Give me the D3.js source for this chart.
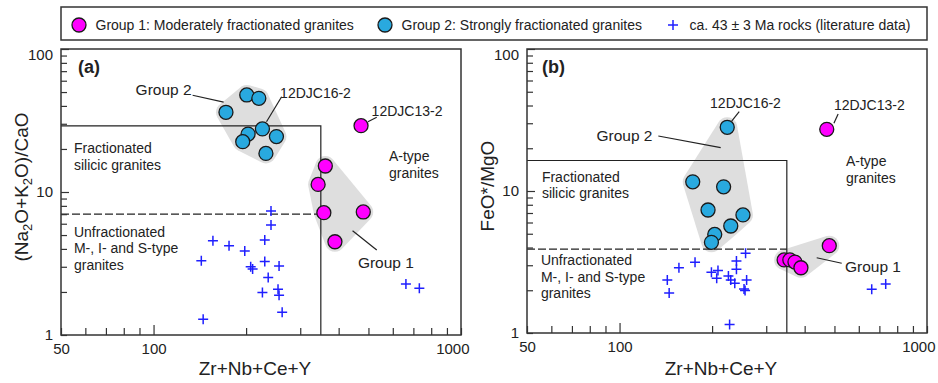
<!DOCTYPE html>
<html>
<head>
<meta charset="utf-8">
<script src="https://cdn.jsdelivr.net/npm/d3@7"></script>
<style>
body { margin: 0; background: #fff; }
text { font-family: "Liberation Sans", Arial, sans-serif; fill: #222; }
</style>
</head>
<body>
<svg id="chart" width="938" height="383"></svg>
<script>
// ---- data ----
var xDomain = [50, 1000];
var yDomain = [1, 100];
var xTickLabels = [50, 100, 1000];
var yTickLabels = [1, 10, 100];

// panel (a): (Na2O+K2O)/CaO vs Zr+Nb+Ce+Y
var g1aX = [473, 362, 343, 358, 481, 389];
var g1aY = [29.1, 15.2, 11.3, 7.17, 7.25, 4.49];
var g2aX = [201, 220, 172, 226, 203, 251, 195, 232];
var g2aY = [47.7, 45.2, 36.1, 27.6, 25.4, 24.4, 22.5, 18.6];
var litaX = [241, 241, 156, 176, 230, 198, 143, 207, 210, 230, 256, 236, 226, 254, 256, 262, 145, 662, 732];
var litaY = [7.37, 5.88, 4.56, 4.21, 4.62, 3.87, 3.31, 3.0, 2.89, 3.26, 3.04, 2.52, 1.98, 2.09, 1.90, 1.44, 1.29, 2.27, 2.12];

// panel (b): FeO*/MgO vs Zr+Nb+Ce+Y
var g1bX = [472, 481, 343, 358, 372, 389];
var g1bY = [27.2, 4.12, 3.27, 3.27, 3.16, 2.88];
var g2bX = [224, 173, 218, 194, 252, 230, 204, 199];
var g2bY = [28.1, 11.6, 10.7, 7.35, 6.78, 5.67, 4.95, 4.35];
var litbX = [257, 240, 240, 176, 156, 143, 145, 199, 209, 207, 226, 230, 237, 259, 254, 256, 228, 661, 734];
var litbY = [3.64, 3.21, 2.81, 3.15, 2.88, 2.36, 1.91, 2.68, 2.75, 2.43, 2.52, 2.36, 2.24, 2.36, 2.04, 1.99, 1.15, 2.03, 2.21];

// field boundaries (Whalen-type): A-type limit on x, FG and unfractionated limits on y
var aTypeX = 350;
var fgYa = 29, unfYa = 7;
var fgYb = 16.4, unfYb = 3.9;

var legendLabels = ["Group 1: Moderately fractionated granites",
                    "Group 2: Strongly fractionated granites",
                    "ca. 43 \u00b1 3 Ma rocks (literature data)"];

var col1 = "#ff00ff", col2 = "#29a9df", colLit = "#1f1fff", colHull = "#dedede";

function zip(xs, ys) { return xs.map(function (v, i) { return [v, ys[i]]; }); }

var svg = d3.select("#chart");
var plus = "M-5,0H5M0,-5V5";

function hullPath(pts, pad) {
	var ring = [];
	pts.forEach(function (p) {
		for (var k = 0; k < 24; k++) {
			var a = k / 24 * 2 * Math.PI;
			ring.push([p[0] + pad * Math.cos(a), p[1] + pad * Math.sin(a)]);
		}
	});
	return d3.line().curve(d3.curveLinearClosed)(d3.polygonHull(ring));
}

function drawPanel(cfg) {
	var g = svg.append("g");
	var x = d3.scaleLog().domain(xDomain).range([cfg.left, cfg.right]);
	var y = d3.scaleLog().domain(yDomain).range([cfg.bottom, cfg.top]);
	var px = function (d) { return [x(d[0]), y(d[1])]; };

	// grey envelopes
	cfg.hulls.forEach(function (h) {
		g.append("path").attr("d", hullPath(h.map(px), 10)).attr("fill", colHull);
	});

	// field boundaries
	g.append("path")
		.attr("d", "M" + x(xDomain[0]) + "," + y(cfg.fg) + "H" + x(aTypeX) + "V" + y(yDomain[0]))
		.attr("fill", "none").attr("stroke", "#222").attr("stroke-width", 1.2);
	g.append("line")
		.attr("x1", x(xDomain[0])).attr("x2", x(aTypeX))
		.attr("y1", y(cfg.unf)).attr("y2", y(cfg.unf))
		.attr("stroke", "#222").attr("stroke-width", 1.2).attr("stroke-dasharray", "8,3");

	// axes, ticks pointing inward
	var xAxis = d3.axisBottom(x).tickValues(x.ticks()).tickSize(-7).tickPadding(8)
		.tickFormat(function (d) { return xTickLabels.indexOf(d) >= 0 ? d : ""; });
	var gx = g.append("g").attr("transform", "translate(0," + cfg.bottom + ")").call(xAxis);
	gx.select(".domain").remove();
	gx.selectAll("line").attr("stroke", "#333").attr("stroke-width", 1.2)
		.attr("y2", function (d) { return d === 100 ? -10 : -7; });
	gx.selectAll("text").attr("font-size", 15).attr("font-family", null)
		.filter(function (d) { return d === 1000; })
		.attr("text-anchor", "end").attr("dx", 8);

	var yAxis = d3.axisLeft(y).tickValues(y.ticks()).tickSize(-6).tickPadding(8)
		.tickFormat(function (d) { return yTickLabels.indexOf(d) >= 0 ? d : ""; });
	var gy = g.append("g").attr("transform", "translate(" + cfg.left + ",0)").call(yAxis);
	gy.select(".domain").remove();
	gy.selectAll("line").attr("stroke", "#333").attr("stroke-width", 1.2)
		.attr("x2", function (d) { return d === 10 || d === 100 ? 8 : 6; });
	gy.selectAll("text").attr("font-size", 15).attr("font-family", null)
		.attr("dy", function (d) { return d === 100 ? "0.7em" : "0.32em"; });

	g.append("rect")
		.attr("x", cfg.left).attr("y", cfg.top)
		.attr("width", cfg.right - cfg.left).attr("height", cfg.bottom - cfg.top)
		.attr("fill", "none").attr("stroke", "#333").attr("stroke-width", 1.5);

	// literature data
	g.selectAll("path.lit").data(cfg.lit).enter().append("path")
		.attr("class", "lit")
		.attr("d", plus)
		.attr("transform", function (d) { return "translate(" + x(d[0]) + "," + y(d[1]) + ")"; })
		.attr("stroke", colLit).attr("stroke-width", 1.5).attr("fill", "none");

	// samples
	[[cfg.g2, col2], [cfg.g1, col1]].forEach(function (s) {
		g.selectAll(null).data(s[0]).enter().append("circle")
			.attr("cx", function (d) { return x(d[0]); })
			.attr("cy", function (d) { return y(d[1]); })
			.attr("r", 7)
			.attr("fill", s[1]).attr("stroke", "#1a1a1a").attr("stroke-width", 1.3);
	});

	// leader lines and labels
	cfg.leaders.forEach(function (l) {
		g.append("line")
			.attr("x1", x(l[0])).attr("y1", y(l[1])).attr("x2", x(l[2])).attr("y2", y(l[3]))
			.attr("stroke", "#222").attr("stroke-width", 1.2);
	});
	cfg.labels.forEach(function (t) {
		var txt = g.append("text")
			.attr("x", x(t.x)).attr("y", y(t.y))
			.attr("font-size", t.size || 14)
			.attr("font-weight", t.bold ? "bold" : null)
			.attr("text-anchor", t.anchor || "start");
		t.lines.forEach(function (s, i) {
			txt.append("tspan").attr("x", x(t.x)).attr("dy", i === 0 ? "0.35em" : "1.2em").text(s);
		});
	});

	// axis titles
	g.append("text")
		.attr("x", (cfg.left + cfg.right) / 2 - 6).attr("y", 375)
		.attr("text-anchor", "middle").attr("font-size", 19)
		.text("Zr+Nb+Ce+Y");
	var yt = g.append("text")
		.attr("transform", "translate(" + (cfg.left - 33) + "," + ((cfg.top + cfg.bottom) / 2 - 5) + ") rotate(-90)")
		.attr("text-anchor", "middle").attr("font-size", 19);
	cfg.yTitle.forEach(function (p) {
		var ts = yt.append("tspan").text(p[0]);
		if (p[1]) ts.attr("font-size", 13).attr("dy", 4);
		else if (p[2]) ts.attr("dy", -4);
	});
}

drawPanel({
	left: 61, right: 461, top: 49, bottom: 335,
	fg: fgYa, unf: unfYa,
	g1: zip(g1aX, g1aY), g2: zip(g2aX, g2aY), lit: zip(litaX, litaY),
	hulls: [zip(g2aX, g2aY), zip(g1aX, g1aY).slice(1)],
	leaders: [[134, 47.5, 169, 42.5], [261, 46.4, 233, 31], [532, 33.3, 498, 31], [444, 5.36, 532, 3.93]],
	labels: [
		{ x: 56.8, y: 75.2, lines: ["(a)"], size: 18, bold: true },
		{ x: 133, y: 52, lines: ["Group 2"], size: 15.5, anchor: "end" },
		{ x: 258, y: 49, lines: ["12DJC16-2"] },
		{ x: 512, y: 37, lines: ["12DJC13-2"] },
		{ x: 583, y: 17.7, lines: ["A-type", "granites"] },
		{ x: 462, y: 3.2, lines: ["Group 1"], size: 15.5 },
		{ x: 55.1, y: 20.2, lines: ["Fractionated", "silicic granites"] },
		{ x: 55.1, y: 5.28, lines: ["Unfractionated", "M-, I- and S-type", "granites"] }
	],
	yTitle: [["(Na"], ["2", true], ["O+K", false, true], ["2", true], ["O)/CaO", false, true]]
});

drawPanel({
	left: 527, right: 927, top: 49, bottom: 333,
	fg: fgYb, unf: unfYb,
	g1: zip(g1bX, g1bY), g2: zip(g2bX, g2bY), lit: zip(litbX, litbY),
	hulls: [zip(g2bX, g2bY), zip(g1bX, g1bY).slice(1)],
	leaders: [[133.7, 24.4, 213.3, 20.2], [245, 36.2, 231.6, 31.1], [514, 34.8, 498, 30], [437.7, 3.39, 528, 3.1]],
	labels: [
		{ x: 55.9, y: 75, lines: ["(b)"], size: 18, bold: true },
		{ x: 128, y: 24.5, lines: ["Group 2"], size: 15.5, anchor: "end" },
		{ x: 197, y: 41.9, lines: ["12DJC16-2"] },
		{ x: 498, y: 40.3, lines: ["12DJC13-2"] },
		{ x: 545, y: 16.3, lines: ["A-type", "granites"] },
		{ x: 541, y: 2.96, lines: ["Group 1"], size: 15.5 },
		{ x: 55.9, y: 12.6, lines: ["Fractionated", "silicic granites"] },
		{ x: 55.5, y: 3.27, lines: ["Unfractionated", "M-, I- and S-type", "granites"] }
	],
	yTitle: [["FeO*/MgO"]]
});

// legend
var lg = svg.append("g");
lg.append("rect").attr("x", 61).attr("y", 7).attr("width", 866).attr("height", 33)
	.attr("fill", "#fff").attr("stroke", "#333").attr("stroke-width", 1.5);
var legendItems = [{ x: 79, fill: col1 }, { x: 385, fill: col2 }, { x: 673, lit: true }];
legendItems.forEach(function (it, i) {
	if (it.lit) {
		lg.append("path").attr("d", plus).attr("transform", "translate(" + it.x + ",25)")
			.attr("stroke", colLit).attr("stroke-width", 1.5);
	} else {
		lg.append("circle").attr("cx", it.x).attr("cy", 25).attr("r", 7)
			.attr("fill", it.fill).attr("stroke", "#1a1a1a").attr("stroke-width", 1.3);
	}
	lg.append("text").attr("x", it.x + 16.5).attr("y", 25).attr("dy", "0.35em")
		.attr("font-size", 14).text(legendLabels[i]);
});
</script>
</body>
</html>
